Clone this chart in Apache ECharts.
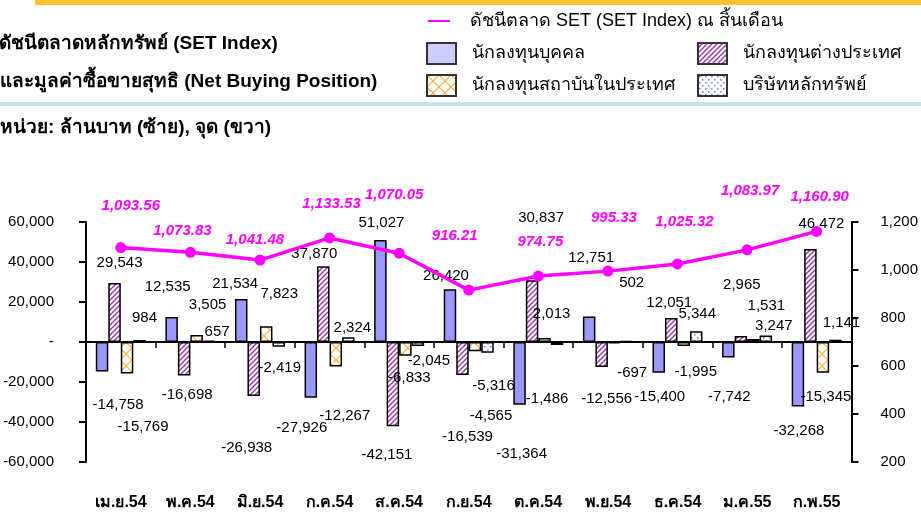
<!DOCTYPE html>
<html>
<head>
<meta charset="utf-8">
<script src="https://cdn.jsdelivr.net/npm/echarts@6/dist/echarts.min.js"></script>
<style>
  html, body { margin: 0; padding: 0; background: #fff; }
  #chart { width: 921px; height: 513px; }
</style>
</head>
<body>
<div id="chart"></div>
<script>
"use strict";

// data
var months = ['เม.ย.54', 'พ.ค.54', 'มิ.ย.54', 'ก.ค.54', 'ส.ค.54', 'ก.ย.54', 'ต.ค.54', 'พ.ย.54', 'ธ.ค.54', 'ม.ค.55', 'ก.พ.55'];
var individual = [-14758, 12535, 21534, -27926, 51027, 26420, -31364, 12751, -15400, -7742, -32268];
var foreign = [29543, -16698, -26938, 37870, -42151, -16539, 30837, -12556, 12051, 2965, 46472];
var institution = [-15769, 3505, 7823, -12267, -6833, -4565, 2013, -697, -1995, 1531, -15345];
var broker = [984, 657, -2419, 2324, -2045, -5316, -1486, 502, 5344, 3247, 1141];
var setIndex = [1093.56, 1073.83, 1041.48, 1133.53, 1070.05, 916.21, 974.75, 995.33, 1025.32, 1083.97, 1160.90];

var leftTicks = { min: -60000, max: 60000, step: 20000 };
var rightTicks = { min: 200, max: 1200, step: 200 };

// label nudges (px, relative to the bar end / point), the source labels are scattered by hand
var indShift = [[16,34],[-4,-31],[-6,-16],[-9,31],[1,-18],[-4,-14],[2,50],[2,-59],[1,25],[1,40],[1,25]];
var forShift = [[5,-21],[3,20],[-7,52],[-9,-13],[-6,29],[5,62],[9,-63],[5,32],[-2,-16],[1,-52],[11,-26]];
var instShift = [[16,54],[11,-31],[13,-33],[9,50],[4,23],[16,65],[7,-25],[18,30],[12,26],[13,-34],[3,25]];
var brkShift = [[5,-23],[8,-9],[1,22],[4,-10],[11,15],[6,34],[-10,54],[5,-58],[1,-18],[8,-10],[6,-17]];
var setShift = [[10,-42],[-8,-21],[-5,-20],[2,-34],[-5,-58],[-14,-54],[2,-34],[6,-53],[7,-42],[3,-59],[3,-35]];

var FONT = "'Liberation Sans', Arial, sans-serif";

function pattern(size, draw) {
  var c = document.createElement('canvas');
  c.width = size; c.height = size;
  var ctx = c.getContext('2d');
  ctx.fillStyle = '#ffffff';
  ctx.fillRect(0, 0, size, size);
  draw(ctx, size);
  return { image: c, repeat: 'repeat' };
}

var stripeFill = pattern(5, function (ctx, s) {
  ctx.strokeStyle = '#9933aa';
  ctx.lineWidth = 1.4;
  ctx.beginPath();
  ctx.moveTo(-1, s + 1); ctx.lineTo(s + 1, -1);
  ctx.moveTo(-1, 1); ctx.lineTo(1, -1);
  ctx.moveTo(s - 1, s + 1); ctx.lineTo(s + 1, s - 1);
  ctx.stroke();
});

var crossFill = pattern(12, function (ctx, s) {
  ctx.strokeStyle = '#ffaa33';
  ctx.lineWidth = 1.2;
  ctx.beginPath();
  ctx.moveTo(0, 0); ctx.lineTo(s, s);
  ctx.moveTo(0, s); ctx.lineTo(s, 0);
  ctx.stroke();
});

var dotFill = pattern(6, function (ctx) {
  ctx.fillStyle = '#6f8fe8';
  ctx.fillRect(1, 1, 1.6, 1.6);
  ctx.fillRect(4, 4, 1.6, 1.6);
});

function fmt(v) {
  return v.toLocaleString('en-US');
}

function barData(values, shift) {
  return values.map(function (v, i) {
    var up = v >= 0;
    return {
      value: v,
      label: {
        position: up ? 'top' : 'bottom',
        offset: [shift[i][0], shift[i][1] + (up ? 13 : -13)]
      }
    };
  });
}

function barSeries(name, values, shift, fill) {
  return {
    name: name,
    type: 'bar',
    xAxisIndex: 0,
    yAxisIndex: 0,
    barWidth: 12.5,
    barGap: '0%',
    data: barData(values, shift),
    itemStyle: { color: fill, borderColor: '#000', borderWidth: 1.5 },
    label: {
      show: true,
      color: '#000',
      fontFamily: FONT,
      fontSize: 15,
      formatter: function (p) { return fmt(p.value); }
    },
    emphasis: { disabled: true }
  };
}

var legendBase = {
  icon: 'rect',
  itemWidth: 29,
  itemHeight: 21,
  selectedMode: false,
  itemStyle: { borderColor: '#333', borderWidth: 2 },
  textStyle: { fontFamily: FONT, fontSize: 18, color: '#000', padding: [0, 0, 0, 11] }
};

function oneLegend(name, left, top, itemStyle) {
  return Object.assign({}, legendBase, {
    left: left,
    top: top,
    data: [{ name: name, itemStyle: itemStyle }]
  });
}

var chart = echarts.init(document.getElementById('chart'));

var option = {
  backgroundColor: '#ffffff',
  animation: false,
  textStyle: { fontFamily: FONT },
  grid: { left: 86, right: 68, top: 222, bottom: 51 },
  graphic: [
    { type: 'rect', left: 35, top: 0, shape: { width: 886, height: 5 }, style: { fill: '#fec12f' } },
    { type: 'rect', left: 0, top: 102, shape: { width: 921, height: 4 }, style: { fill: '#c6e4e8' } },
    { type: 'text', left: -1, top: 34, style: { text: 'ดัชนีตลาดหลักทรัพย์ (SET Index)', font: 'bold 19px ' + FONT, fill: '#000' } },
    { type: 'text', left: 0, top: 72, style: { text: 'และมูลค่าซื้อขายสุทธิ (Net Buying Position)', font: 'bold 19px ' + FONT, fill: '#000' } },
    { type: 'text', left: 0, top: 118, style: { text: 'หน่วย: ล้านบาท (ซ้าย), จุด (ขวา)', font: 'bold 19px ' + FONT, fill: '#000' } }
  ],
  legend: [
    Object.assign({}, legendBase, {
      left: 423, top: 7, itemWidth: 22, itemHeight: 2,
      itemStyle: { borderWidth: 0 },
      textStyle: Object.assign({}, legendBase.textStyle, { padding: [0, 0, 0, 15] }),
      data: [{ name: 'ดัชนีตลาด SET (SET Index) ณ สิ้นเดือน', itemStyle: { color: '#ff00ff' } }]
    }),
    oneLegend('นักลงทุนบุคคล', 421, 37, { color: '#ccccff' }),
    oneLegend('นักลงทุนต่างประเทศ', 692, 37, { color: stripeFill }),
    oneLegend('นักลงทุนสถาบันในประเทศ', 421, 69, { color: crossFill }),
    oneLegend('บริษัทหลักทรัพย์', 692, 69, { color: dotFill })
  ],
  xAxis: [
    {
      type: 'category',
      data: months,
      axisLine: { onZero: true, onZeroAxisIndex: 0, lineStyle: { color: '#000', width: 2 } },
      axisTick: { show: true, length: 6, lineStyle: { color: '#000', width: 1.5 } },
      axisLabel: { show: false },
      splitLine: { show: false }
    },
    {
      type: 'category',
      data: months,
      position: 'bottom',
      axisLine: { show: false },
      axisTick: { show: false },
      axisLabel: { color: '#000', fontFamily: FONT, fontWeight: 'bold', fontSize: 16, margin: 33 },
      splitLine: { show: false }
    }
  ],
  yAxis: [
    {
      type: 'value',
      min: leftTicks.min,
      max: leftTicks.max,
      interval: leftTicks.step,
      axisLine: { show: true, lineStyle: { color: '#000', width: 2 } },
      axisTick: { show: true, length: 7, lineStyle: { color: '#000', width: 2 } },
      splitLine: { show: false },
      axisLabel: {
        color: '#000', fontFamily: FONT, fontSize: 15, margin: 32,
        formatter: function (v) { return v === 0 ? '-' : fmt(v); }
      }
    },
    {
      type: 'value',
      position: 'right',
      min: rightTicks.min,
      max: rightTicks.max,
      interval: rightTicks.step,
      axisLine: { show: true, lineStyle: { color: '#000', width: 2 } },
      axisTick: { show: true, length: 7, lineStyle: { color: '#000', width: 2 } },
      splitLine: { show: false },
      axisLabel: {
        color: '#000', fontFamily: FONT, fontSize: 15, margin: 29,
        formatter: function (v) { return fmt(v); }
      }
    }
  ],
  series: [
    barSeries('นักลงทุนบุคคล', individual, indShift, '#9999ff'),
    barSeries('นักลงทุนต่างประเทศ', foreign, forShift, stripeFill),
    barSeries('นักลงทุนสถาบันในประเทศ', institution, instShift, crossFill),
    barSeries('บริษัทหลักทรัพย์', broker, brkShift, dotFill),
    {
      name: 'ดัชนีตลาด SET (SET Index) ณ สิ้นเดือน',
      type: 'line',
      xAxisIndex: 0,
      yAxisIndex: 1,
      z: 5,
      symbol: 'circle',
      symbolSize: 11,
      lineStyle: { color: '#ff00ff', width: 3.5 },
      itemStyle: { color: '#ff00ff' },
      data: setIndex.map(function (v, i) {
        return { value: v, label: { offset: [setShift[i][0], setShift[i][1] + 18] } };
      }),
      label: {
        show: true,
        position: 'top',
        color: '#ff00ff',
        fontFamily: FONT,
        fontSize: 15,
        fontWeight: 'bold',
        fontStyle: 'italic',
        formatter: function (p) {
          return p.value.toLocaleString('en-US', { minimumFractionDigits: 2, maximumFractionDigits: 2 });
        }
      },
      emphasis: { disabled: true }
    }
  ]
};

chart.setOption(option);
</script>
</body>
</html>
